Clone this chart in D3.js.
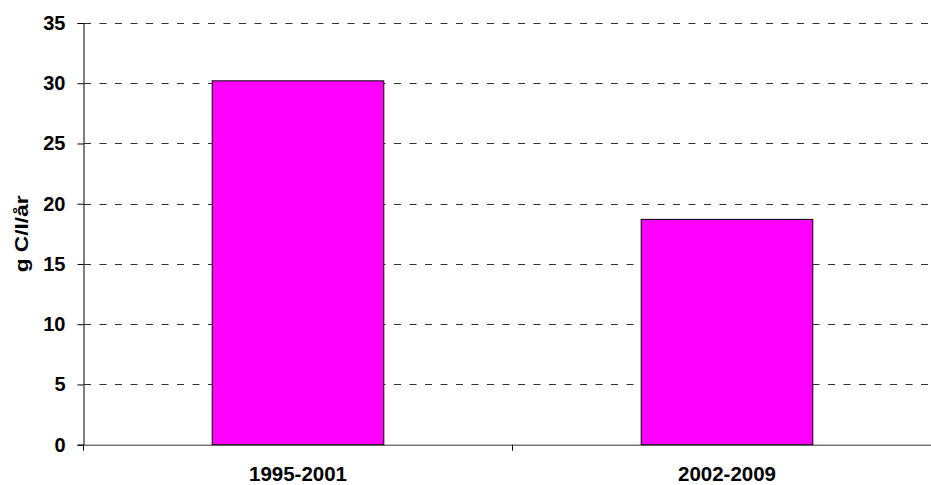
<!DOCTYPE html>
<html><head><meta charset="utf-8">
<script src="https://cdn.jsdelivr.net/npm/d3@7"></script>
<style>body{margin:0;background:#fff}svg{display:block}</style>
</head><body>
<script>
const categories = ["1995-2001", "2002-2009"];
const values = [30.2, 18.7];
const yTicks = [0, 5, 10, 15, 20, 25, 30, 35];
const yTitle = "g C/l/år";

const W = 931, H = 485;
const m = {left: 83.5, top: 23, right: -10.5, bottom: 40};
const svg = d3.select("body").append("svg").attr("width", W).attr("height", H);
const x = d3.scaleBand().domain(categories).range([m.left, W - m.right]).paddingInner(0.6).paddingOuter(0.3);
const xb = d3.scaleBand().domain(categories).range([m.left, W - m.right]);
const y = d3.scaleLinear().domain([0, 35]).range([444.7, m.top]);
const font = "Arial, 'Liberation Sans', sans-serif";

// gridlines
svg.append("g").selectAll("line").data(yTicks.filter(d => d > 0)).join("line")
  .attr("x1", m.left + 0.5).attr("x2", W).attr("y1", d => Math.round(y(d)) + 0.5).attr("y2", d => Math.round(y(d)) + 0.5)
  .attr("stroke", "#333").attr("stroke-dasharray", "7,8.5").attr("stroke-width", 1);

// bars
svg.append("g").selectAll("rect").data(values).join("rect")
  .attr("x", (d, i) => x(categories[i])).attr("width", x.bandwidth())
  .attr("y", d => y(d)).attr("height", d => y(0) - y(d))
  .attr("fill", "#FF00FF").attr("stroke", "#000").attr("stroke-width", 1);

// y axis
const ya = svg.append("g").attr("transform", `translate(${m.left},0)`)
  .call(d3.axisLeft(y).tickValues(yTicks).tickSize(6).tickPadding(12));
ya.select(".domain").attr("stroke", "#000");
ya.selectAll("text").attr("font-family", font).attr("font-weight", "bold").attr("font-size", "20px").attr("fill", "#000");

// x axis
const xa = svg.append("g").attr("transform", `translate(0,${y(0)})`)
  .call(d3.axisBottom(xb).tickSize(0).tickPadding(22));
xa.select(".domain").attr("stroke", "#333");
xa.selectAll("text").attr("font-family", font).attr("font-weight", "bold").attr("font-size", "20.5px").attr("fill", "#000");
// category boundary ticks
svg.append("g").selectAll("line").data(categories).join("line")
  .attr("x1", d => xb(d)).attr("x2", d => xb(d)).attr("y1", y(0)).attr("y2", y(0) + 6)
  .attr("stroke", "#000");

// y title
svg.append("text").attr("transform", `translate(28,${(y(0) + y(35)) / 2}) rotate(-90)`)
  .attr("text-anchor", "middle").attr("font-family", font).attr("font-weight", "bold").attr("font-size", "19px")
  .attr("textLength", 77).attr("lengthAdjust", "spacingAndGlyphs")
  .text(yTitle);
</script>
</body></html>
